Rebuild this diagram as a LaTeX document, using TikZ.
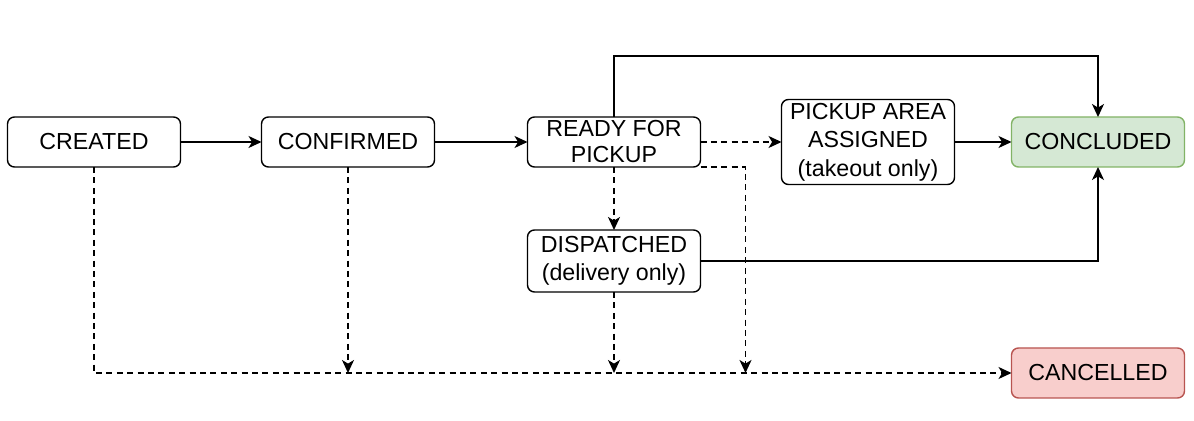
\documentclass[tikz,border=0pt]{standalone}
\usepackage{fontspec}
\setmainfont{Liberation Sans}
\usepackage{tikz}
\usetikzlibrary{positioning,arrows.meta}

\definecolor{okfill}{HTML}{D5E8D4}
\definecolor{okline}{HTML}{82B366}
\definecolor{badfill}{HTML}{F8CECC}
\definecolor{badline}{HTML}{B85450}

\begin{document}
\begin{tikzpicture}[x=0.5pt, y=0.5pt,
	state/.style={draw, rounded corners=3.5pt, line width=0.7pt, align=center,
		minimum width=86.5pt, minimum height=25pt, inner sep=1pt, outer sep=0pt,
		font=\fontsize{11.6}{14.2}\selectfont},
	arr/.style={line width=0.75pt, -{Stealth[length=6.5pt, width=6pt, inset=1.8pt]}},
	dsh/.style={arr, dash pattern=on 3pt off 2.2pt}]
	  \useasboundingbox (0,0) rectangle (1194,-421);

	  \node[state] at (94,-142) (created) {CREATED} ; %
	  \node[state, right = 40.5pt of created] (confirmed) {CONFIRMED};
	  \node[state, right = 46.5pt of confirmed, font=\fontsize{11.6}{13}\selectfont] (ready) {READY FOR\\PICKUP};
	  \node[state, right = 40.5pt of ready, minimum height=42.5pt] (pickup) {PICKUP AREA\\ASSIGNED\\(takeout only)};
	  \node[state, right = 28.5pt of pickup, fill=okfill, draw=okline] (concluded) {CONCLUDED};

	  \node[state, below = 31.5pt of ready, minimum height=31pt] (dispatched) {DISPATCHED\\(delivery only)};
	  \node[state, below = 90.5pt of concluded, fill=badfill, draw=badline] (cancelled) {CANCELLED};

	  \coordinate (rbend) at ([xshift=22.5pt]ready.south east);

	  \draw[arr] (created) -- (confirmed) ; %
	  \draw[arr] (confirmed) -- (ready) ;
	  \draw[dsh] (ready) -- (pickup) ;
	  \draw[arr] (pickup) -- (concluded) ;
	  \draw[arr] (ready.north) -- ++(0,61) -| (concluded.north) ;
	  \draw[dsh] (ready) -- (dispatched) ;
	  \draw[arr] (dispatched.east) -| (concluded.south) ;

	  \draw[dsh] (created.south) |- (cancelled.west) ;
	  \draw[dsh] (confirmed.south) -- (confirmed.south |- cancelled.west) ;
	  \draw[dsh] (dispatched.south) -- (dispatched.south |- cancelled.west) ;
	  \draw[dsh] (ready.south east) -- (rbend) -- (rbend |- cancelled.west) ;

\end{tikzpicture}
\end{document}
